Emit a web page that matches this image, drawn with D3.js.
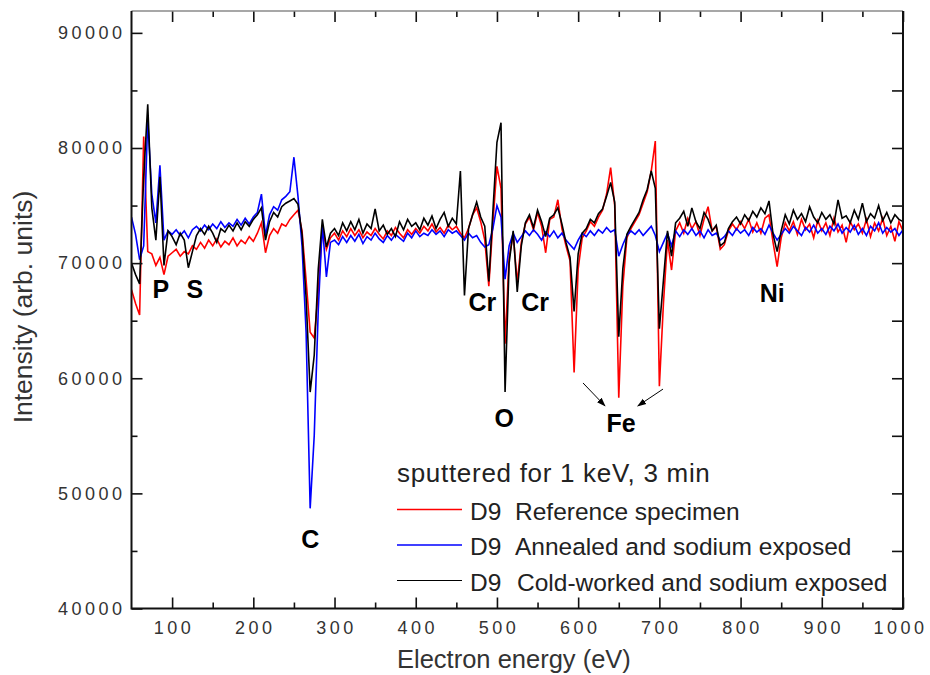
<!DOCTYPE html>
<html lang="en">
<head>
<meta charset="UTF-8">
<title>AES spectra D9</title>
<script src="https://d3js.org/d3.v7.min.js"></script>
<style>
  body {margin: 0; background: #fff;}
  svg text {font-family: "Liberation Sans", Arial, sans-serif;}
  .tick-label {font-size: 18px; fill: #333; letter-spacing: 3.5px;}
  .peak-label {font-size: 25px; font-weight: bold; fill: #000;}
</style>
</head>
<body>
<div id="chart"></div>
<script>
// energy grid (eV) and intensities (thousands of arb. units)
const energyEv = d3.range(50, 1001, 5);

const refSpecimen = [
  67.7, 66.5, 65.5, 81.0, 71.0, 70.8, 69.8, 70.5, 69.0, 70.6,
  70.9, 71.2, 70.6, 71.0, 70.8, 71.5, 71.2, 71.8, 71.3, 72.0,
  71.5, 72.1, 71.4, 71.9, 71.6, 72.2, 71.5, 72.0, 71.7, 72.3,
  71.9, 72.6, 73.5, 70.9, 72.4, 73.0, 72.6, 73.4, 73.2, 73.8,
  74.2, 74.6, 72.8, 68.5, 64.0, 63.5, 67.5, 73.2, 71.2, 72.2,
  72.6, 72.0, 72.8, 72.3, 73.0, 72.4, 72.9, 72.2, 72.7, 72.4,
  73.0, 72.5, 72.1, 72.8, 72.4, 73.1, 72.6, 72.2, 72.9, 72.5,
  73.0, 72.6, 73.2, 72.8, 73.4, 72.7, 73.1, 72.6, 73.3, 72.9,
  73.2, 72.6, 72.2, 73.0, 74.2, 74.8, 73.6, 72.0, 68.0, 73.5,
  78.4, 76.5, 63.0, 70.5, 72.5, 68.3, 71.8, 73.4, 74.0, 72.9,
  74.4, 73.2, 70.9, 73.8, 74.0, 75.5, 73.0, 71.5, 70.2, 60.5,
  69.5, 72.2, 72.8, 73.6, 73.2, 74.0, 74.6, 76.0, 78.3, 75.0,
  58.3, 68.0, 72.2, 73.0, 73.6, 74.2, 75.2, 76.2, 78.0, 80.6,
  59.3, 66.5, 72.0, 69.4, 72.8, 73.5, 72.6, 73.9, 73.0, 73.6,
  72.4, 73.8, 74.9, 72.8, 73.2, 71.2, 71.6, 72.8, 73.4, 72.9,
  73.6, 73.0, 73.8, 72.7, 73.5, 72.6, 73.9, 74.2, 71.8, 69.7,
  72.2, 73.5, 72.8, 73.6, 72.5, 73.8, 72.9, 73.4, 72.2, 73.7,
  72.8, 73.5, 72.4, 73.9, 72.7, 73.3, 71.8, 73.6, 72.9, 73.4,
  72.6, 73.8, 72.3, 73.5, 72.8, 73.9, 72.4, 73.2, 71.9, 73.6,
  72.8
];

const annealedNa = [
  74.0, 72.5, 70.3, 71.5, 82.5, 76.0, 73.5, 78.5, 72.0, 72.8,
  72.5, 72.9, 72.4, 72.8, 72.2, 72.9, 73.2, 72.8, 73.3, 72.9,
  73.4, 73.0, 73.6, 73.1, 73.5, 73.2, 73.8, 73.3, 73.9, 73.4,
  74.0, 74.4, 76.0, 72.4, 74.2, 74.9, 74.6, 75.5, 75.8, 76.2,
  79.2, 75.8, 71.5, 64.0, 48.7, 55.0, 66.0, 73.3, 68.8, 71.8,
  72.0, 71.6, 72.3, 71.8, 72.4, 71.9, 72.5, 71.7, 72.3, 72.0,
  72.6, 72.1, 71.8, 72.4, 72.0, 72.5, 72.2, 71.9, 72.6, 72.2,
  72.8, 72.3, 72.6, 72.4, 72.9, 72.5, 72.8, 72.3, 72.9, 72.6,
  72.8, 72.4, 72.0, 72.6, 72.2, 72.4, 71.8, 71.4, 71.6, 73.0,
  75.0, 74.0, 68.6, 71.5, 72.6, 71.8, 72.3, 72.8, 72.4, 72.9,
  72.5, 72.0, 72.7, 72.3, 72.8, 72.2, 72.6, 72.0, 71.6, 71.2,
  72.0, 72.6, 72.3, 72.8, 72.4, 72.9, 72.6, 73.1, 72.7, 72.9,
  70.6, 71.6, 72.4, 72.8, 72.5, 72.9, 72.4, 72.8, 73.2, 72.4,
  71.0, 71.8, 72.6, 71.5, 72.8, 72.3, 72.9, 72.5, 73.0, 72.4,
  72.8, 72.2, 72.9, 72.4, 72.6, 72.0, 72.3, 72.8, 72.4, 73.0,
  72.6, 72.9, 72.4, 73.1, 72.7, 73.0, 72.5, 73.3, 72.6, 72.0,
  72.5, 73.0, 72.6, 73.2, 72.8, 72.4, 73.1, 72.7, 73.3, 72.6,
  73.0, 72.5, 73.2, 72.8, 73.4, 72.6, 73.1, 72.7, 73.3, 72.5,
  73.0, 72.4, 73.2, 72.8, 73.5, 72.6, 73.1, 72.7, 73.0, 72.4,
  72.9
];

const coldWorkedNa = [
  70.0, 69.0, 68.2, 77.5, 83.8, 74.8, 72.0, 77.5, 69.8, 72.8,
  72.3, 71.6, 72.6, 72.0, 69.6, 71.0, 72.4, 73.0, 72.5, 73.2,
  72.6, 71.8, 73.0, 72.7, 73.3, 72.8, 73.5, 72.9, 73.6, 73.2,
  73.8, 74.2, 74.8, 72.0, 73.6, 74.4, 74.0, 74.9, 75.2, 75.4,
  75.6, 75.1, 72.5, 67.0, 58.8, 62.0, 69.5, 73.8, 71.4, 72.6,
  73.0, 72.4, 73.5, 72.8, 73.6, 72.9, 73.8, 72.6, 73.4, 73.0,
  74.7, 72.8, 73.3, 72.5, 73.0, 72.3, 73.6, 72.9, 73.8, 73.2,
  73.5, 72.9, 73.9, 73.3, 74.1, 73.0, 73.8, 74.4, 73.2, 73.9,
  73.4, 78.0, 67.2, 73.0, 74.2, 75.3, 74.0, 73.2, 68.4, 74.5,
  80.5, 82.2, 58.8, 70.0, 72.8, 67.5, 71.5, 73.5, 74.2, 73.1,
  74.6, 73.6, 72.3, 73.9, 74.2, 74.8, 73.4, 71.8, 70.5, 65.8,
  70.8, 72.6, 73.0, 73.8, 73.5, 74.3, 74.7, 75.8, 77.0, 75.3,
  63.6, 69.5, 72.5, 73.2, 73.8, 74.4, 75.5, 76.4, 78.0, 76.5,
  64.3, 68.5, 72.8, 70.6, 73.5, 73.9, 74.5, 73.2, 74.8, 73.6,
  73.0, 74.4, 73.8, 72.8, 73.3, 71.5, 71.8, 73.0, 73.6, 74.0,
  73.4, 74.2, 73.7, 74.5, 74.0, 74.8, 74.3, 75.4, 72.5, 71.0,
  72.8, 74.2, 73.4, 74.6, 73.8, 74.3, 73.6, 74.9, 74.0, 73.5,
  74.4, 73.8, 74.2, 73.4, 75.5, 73.9, 74.1, 73.5, 74.6, 73.8,
  75.2, 73.6, 74.3, 73.9, 75.0, 73.7, 74.4, 73.5, 74.2, 73.8,
  73.6
];

const seriesNames = ["Reference specimen", "Annealed and sodium exposed", "Cold-worked and sodium exposed"];
const seriesColors = ["#ff0000", "#0000ff", "#000000"];
const xTicks = [100, 200, 300, 400, 500, 600, 700, 800, 900, 1000];
const yTicks = [40000, 50000, 60000, 70000, 80000, 90000];

// element labels, anchored in data units (eV, intensity)
const peakLabels = [
  {text: "P", e: 86, v: 66970}, {text: "S", e: 128, v: 66970},
  {text: "C", e: 270, v: 45250}, {text: "Cr", e: 482, v: 65840},
  {text: "Cr", e: 547, v: 65840}, {text: "O", e: 509, v: 55760},
  {text: "Fe", e: 653, v: 55330}, {text: "Ni", e: 839, v: 66620}
];
const feArrows = [
  {e1: 606, v1: 59590, e2: 633, v2: 57600},
  {e1: 704.5, v1: 59060, e2: 673.5, v2: 57600}
];

const W = 930, H = 675;
const mLeft = 131.5, mRight = 903, mTop = 11, mBottom = 608.5;

const svg = d3.select("#chart").append("svg")
  .attr("width", W).attr("height", H);

const x = d3.scaleLinear().domain([50, 1000]).range([mLeft, mRight]);
const y = d3.scaleLinear().domain([40000, 91900]).range([mBottom, mTop]);

const defs = svg.append("defs");
defs.append("marker")
  .attr("id", "arrow")
  .attr("viewBox", "0 0 10 10")
  .attr("refX", 9).attr("refY", 5)
  .attr("markerWidth", 9).attr("markerHeight", 9)
  .attr("markerUnits", "userSpaceOnUse")
  .attr("orient", "auto")
  .append("path").attr("d", "M0,1.5 L10,5 L0,8.5 Z").attr("fill", "#000");
defs.append("clipPath").attr("id", "clip")
  .append("rect").attr("x", mLeft).attr("y", mTop)
  .attr("width", mRight - mLeft).attr("height", mBottom - mTop);

// curves
const line = d3.line()
  .x((d, i) => x(energyEv[i]))
  .y(d => y(d * 1000));

const plot = svg.append("g").attr("clip-path", "url(#clip)");

[refSpecimen, annealedNa, coldWorkedNa].forEach((vals, k) => {
  plot.append("path")
    .datum(vals.slice(0, energyEv.length))
    .attr("fill", "none")
    .attr("stroke", seriesColors[k])
    .attr("stroke-width", 1.6)
    .attr("d", line);
});

// axes with inward ticks
function styleAxis(g) {
  g.select(".domain").remove();
  g.selectAll(".tick line").attr("stroke", "#111").attr("stroke-width", 1.6);
}
const xMinor = d3.range(150, 1000, 100);
const yMinor = d3.range(45000, 91000, 10000);

svg.append("g").attr("transform", `translate(0,${mBottom})`)
  .call(d3.axisBottom(x).tickValues(xTicks).tickSize(-11).tickPadding(13).tickFormat(d3.format("d")))
  .call(styleAxis)
  .call(g => g.selectAll("text").attr("class", "tick-label").attr("fill", null)
    .attr("dx", d => d === 1000 ? "-3px" : "1.5px"));
svg.append("g").attr("transform", `translate(0,${mBottom})`)
  .call(d3.axisBottom(x).tickValues(xMinor).tickSize(-6).tickFormat(""))
  .call(styleAxis);
svg.append("g").attr("transform", `translate(0,${mTop})`)
  .call(d3.axisTop(x).tickValues(xTicks).tickSize(-11).tickFormat(""))
  .call(styleAxis);
svg.append("g").attr("transform", `translate(0,${mTop})`)
  .call(d3.axisTop(x).tickValues(xMinor).tickSize(-6).tickFormat(""))
  .call(styleAxis);

svg.append("g").attr("transform", `translate(${mLeft},0)`)
  .call(d3.axisLeft(y).tickValues(yTicks).tickSize(-11).tickPadding(6).tickFormat(d3.format("d")))
  .call(styleAxis)
  .call(g => g.selectAll("text").attr("class", "tick-label").attr("fill", null));
svg.append("g").attr("transform", `translate(${mLeft},0)`)
  .call(d3.axisLeft(y).tickValues(yMinor).tickSize(-6).tickFormat(""))
  .call(styleAxis);
svg.append("g").attr("transform", `translate(${mRight},0)`)
  .call(d3.axisRight(y).tickValues(d3.range(40000, 91000, 5000)).tickSize(-11).tickFormat(""))
  .call(styleAxis);

// frame
svg.append("line").attr("x1", mLeft).attr("x2", mRight).attr("y1", mTop).attr("y2", mTop)
  .attr("stroke", "#8a8a8a").attr("stroke-width", 1.5);
svg.append("path")
  .attr("d", `M${mLeft},${mTop} V${mBottom} H${mRight} V${mTop}`)
  .attr("fill", "none").attr("stroke", "#111").attr("stroke-width", 2);

// axis titles
svg.append("text")
  .attr("x", 397).attr("y", 668)
  .attr("font-size", 25.5).attr("fill", "#333")
  .text("Electron energy (eV)");
svg.append("text")
  .attr("transform", "translate(32,307) rotate(-90)")
  .attr("text-anchor", "middle")
  .attr("font-size", 26.5).attr("fill", "#333")
  .text("Intensity (arb. units)");

// element labels
svg.append("g").selectAll("text")
  .data(peakLabels).join("text")
  .attr("class", "peak-label")
  .attr("x", d => x(d.e)).attr("y", d => y(d.v))
  .attr("text-anchor", "middle")
  .text(d => d.text);

svg.append("g").selectAll("line")
  .data(feArrows).join("line")
  .attr("x1", d => x(d.e1)).attr("y1", d => y(d.v1))
  .attr("x2", d => x(d.e2)).attr("y2", d => y(d.v2))
  .attr("stroke", "#000").attr("stroke-width", 1)
  .attr("marker-end", "url(#arrow)");

// legend
const legend = svg.append("g");
legend.append("text")
  .attr("x", 397).attr("y", 482)
  .attr("font-size", 26).attr("letter-spacing", 0.7).attr("fill", "#222")
  .text("sputtered for 1 keV, 3 min");
const rows = legend.selectAll("g.row")
  .data(seriesNames).join("g")
  .attr("class", "row")
  .attr("transform", (d, i) => `translate(0,${509.5 + i * 35.5})`);
rows.append("line")
  .attr("x1", 397).attr("x2", 462)
  .attr("stroke", (d, i) => seriesColors[i])
  .attr("stroke-width", (d, i) => i === 2 ? 1 : 1.6);
rows.append("text")
  .attr("x", 470).attr("y", 10)
  .attr("font-size", 24.5).attr("fill", "#222")
  .text("D9");
rows.append("text")
  .attr("x", (d, i) => i === 2 ? 517 : 515).attr("y", 10)
  .attr("font-size", 24.5).attr("fill", "#222")
  .text(d => d);
</script>
</body>
</html>
